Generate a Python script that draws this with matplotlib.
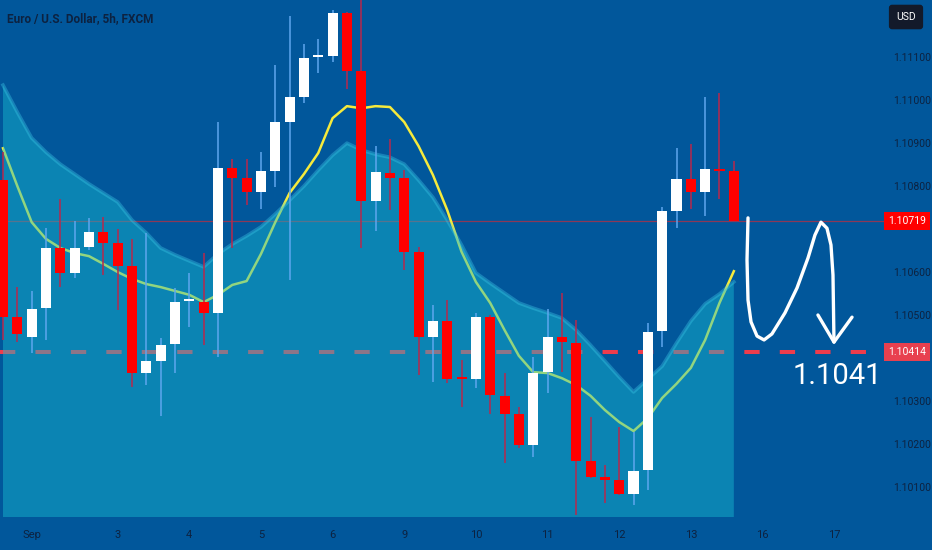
import matplotlib
matplotlib.use('Agg')
import matplotlib.pyplot as plt
import matplotlib.transforms as mtransforms

# 5h candles, EURUSD (FXCM)
opens = [1.10814, 1.10495, 1.10449, 1.10516, 1.10656, 1.10598, 1.10658, 1.10693, 1.10667, 1.10614,
         1.10365, 1.10393, 1.10433, 1.10533, 1.10530, 1.10505, 1.10842, 1.10819, 1.10786, 1.10835,
         1.10949, 1.11007, 1.11100, 1.11102, 1.11202, 1.11067, 1.10765, 1.10830, 1.10819, 1.10647,
         1.10449, 1.10486, 1.10353, 1.10351, 1.10495, 1.10312, 1.10270, 1.10198, 1.10367, 1.10449,
         1.10435, 1.10160, 1.10123, 1.10116, 1.10084, 1.10140, 1.10463, 1.10742, 1.10816, 1.10786,
         1.10840, 1.10835]
highs = [1.10879, 1.10565, 1.10556, 1.10702, 1.10770, 1.10719, 1.10726, 1.10728, 1.10700, 1.10677,
         1.10691, 1.10447, 1.10563, 1.10598, 1.10644, 1.10949, 1.10863, 1.10863, 1.10879, 1.11081,
         1.11195, 1.11130, 1.11142, 1.11209, 1.11205, 1.11244, 1.10893, 1.10909, 1.10837, 1.10658,
         1.10523, 1.10535, 1.10395, 1.10505, 1.10500, 1.10365, 1.10286, 1.10402, 1.10514, 1.10551,
         1.10488, 1.10263, 1.10151, 1.10240, 1.10228, 1.10481, 1.10751, 1.10888, 1.10898, 1.11007,
         1.11016, 1.10858]
lows = [1.10442, 1.10437, 1.10412, 1.10442, 1.10565, 1.10586, 1.10651, 1.10593, 1.10512, 1.10333,
        1.10337, 1.10265, 1.10365, 1.10472, 1.10430, 1.10402, 1.10656, 1.10756, 1.10747, 1.10798,
        1.10581, 1.10993, 1.11063, 1.11088, 1.11026, 1.10656, 1.10695, 1.10744, 1.10605, 1.10360,
        1.10344, 1.10342, 1.10286, 1.10330, 1.10270, 1.10156, 1.10191, 1.10170, 1.10319, 1.10367,
        1.10035, 1.10121, 1.10063, 1.10082, 1.10058, 1.10093, 1.10426, 1.10702, 1.10747, 1.10730,
        1.10770, 1.10719]
closes = [1.10495, 1.10456, 1.10514, 1.10656, 1.10598, 1.10656, 1.10693, 1.10667, 1.10614, 1.10365,
          1.10393, 1.10430, 1.10530, 1.10537, 1.10505, 1.10842, 1.10819, 1.10786, 1.10835, 1.10949,
          1.11007, 1.11098, 1.11102, 1.11202, 1.11067, 1.10765, 1.10833, 1.10819, 1.10647, 1.10449,
          1.10486, 1.10351, 1.10351, 1.10495, 1.10314, 1.10270, 1.10198, 1.10365, 1.10449, 1.10437,
          1.10160, 1.10123, 1.10116, 1.10084, 1.10137, 1.10460, 1.10742, 1.10816, 1.10786, 1.10840,
          1.10835, 1.10719]

# moving average + upper envelope of the shaded band
ma = [1.10888, 1.10800, 1.10716, 1.10677, 1.10656, 1.10644, 1.10637, 1.10619, 1.10600, 1.10584,
      1.10572, 1.10565, 1.10556, 1.10547, 1.10530, 1.10547, 1.10570, 1.10579, 1.10642, 1.10716,
      1.10784, 1.10828, 1.10877, 1.10958, 1.10986, 1.10981, 1.10986, 1.10984, 1.10949, 1.10893,
      1.10826, 1.10744, 1.10647, 1.10577, 1.10528, 1.10465, 1.10405, 1.10367, 1.10365, 1.10353,
      1.10337, 1.10312, 1.10279, 1.10251, 1.10230, 1.10260, 1.10307, 1.10340, 1.10377, 1.10442,
      1.10528, 1.10602]
band_top = [1.11035, 1.10972, 1.10912, 1.10879, 1.10851, 1.10828, 1.10805, 1.10784, 1.10763, 1.10721,
            1.10691, 1.10656, 1.10640, 1.10626, 1.10612, 1.10642, 1.10665, 1.10684, 1.10705, 1.10735,
            1.10767, 1.10800, 1.10837, 1.10872, 1.10900, 1.10884, 1.10874, 1.10867, 1.10851, 1.10814,
            1.10774, 1.10721, 1.10663, 1.10598, 1.10574, 1.10551, 1.10528, 1.10516, 1.10505, 1.10493,
            1.10465, 1.10430, 1.10393, 1.10356, 1.10321, 1.10351, 1.10381, 1.10435, 1.10486, 1.10526,
            1.10549, 1.10577]

last_price = 1.10719
target_price = 1.10414
target_text = '1.1041'

day_labels = ['Sep', '3', '4', '5', '6', '9', '10', '11', '12', '13', '16', '17']
day_ticks = [2, 8, 13, 18, 23, 28, 33, 38, 43, 48, 53, 58]
price_ticks = [1.101, 1.102, 1.103, 1.105, 1.106, 1.108, 1.109, 1.110, 1.111]

# hand drawn "down" scribble (candle index, price)
scribble_x = [51.99, 51.92, 51.99, 52.20, 52.62, 53.11, 53.66, 54.57, 55.41, 56.18, 56.66,
              57.08, 57.50, 57.78, 57.92, 57.99]
scribble_y = [1.10726, 1.10628, 1.10535, 1.10484, 1.10451, 1.10442, 1.10456, 1.10505, 1.10563,
              1.10633, 1.10686, 1.10716, 1.10702, 1.10663, 1.10593, 1.10437]
head_x = [56.87, 57.99, 59.25]
head_y = [1.10500, 1.10437, 1.10495]

BG = '#01579b'
TXT = '#0d2240'
narrow = ['Liberation Sans Narrow', 'Roboto', 'DejaVu Sans']

fig = plt.figure(figsize=(9.32, 5.5), dpi=100, facecolor=BG)
ax = fig.add_axes([0, 0.06, 885 / 932, 0.94], facecolor=BG)

n = len(opens)
x = list(range(n))

# lines under the translucent band
ax.axhline(last_price, color='#ff2020', lw=0.9, alpha=0.55, zorder=1)
ax.axhline(target_price, color='#ee3c4c', lw=2.9, dashes=(3.8, 5), zorder=1,
           solid_capstyle='butt', dash_capstyle='butt')
ax.plot(x, ma, color='#f6ea3c', lw=1.8, zorder=1.2)

ax.fill_between(x, band_top, 1.09, color='#18bcd2', alpha=0.45, lw=0, zorder=2)
ax.plot(x, band_top, color='#3cc6e6', lw=2.6, alpha=0.38, zorder=2.1)

# candles
for i in range(n):
    up = closes[i] >= opens[i]
    body_col = '#ffffff' if up else '#ff0000'
    wick_col = '#5ea6ee' if up else '#b8284c'
    ax.vlines(i, lows[i], highs[i], color=wick_col, lw=1.1, zorder=3)
    lo = min(opens[i], closes[i])
    h = max(abs(closes[i] - opens[i]), 0.00004)
    ax.bar(i, h, bottom=lo, width=0.7, color=body_col, lw=0, zorder=4)

# scribble + arrow
ax.plot(scribble_x, scribble_y, color='white', lw=2.4, solid_capstyle='round',
        solid_joinstyle='round', zorder=5)
ax.plot(head_x, head_y, color='white', lw=2.4, solid_capstyle='round',
        solid_joinstyle='round', zorder=5)
ax.text(58.2, 1.10357, target_text, color='white', fontsize=21, ha='center', va='center',
        family=narrow, zorder=5)

ax.set_xlim(-0.21, 61.55)
ax.set_ylim(1.10030, 1.11233)

for s in ax.spines.values():
    s.set_visible(False)

ax.set_xticks(day_ticks)
ax.set_xticklabels(day_labels)
ax.yaxis.tick_right()
ax.set_yticks(price_ticks)
ax.set_yticklabels(['%.5f' % p for p in price_ticks])
ax.tick_params(axis='x', length=0, pad=9, labelsize=8, labelcolor=TXT)
ax.tick_params(axis='y', length=0, pad=6, labelsize=7.5, labelcolor=TXT)
for lab in ax.get_xticklabels() + ax.get_yticklabels():
    lab.set_family(narrow)

# price tags on the scale
tr = mtransforms.blended_transform_factory(ax.transAxes, ax.transData)
ax.text(1.0249, last_price, '%.5f' % last_price, transform=tr, color='white', fontsize=7.5,
        ha='center', va='center', family=narrow, zorder=10, clip_on=False,
        bbox=dict(boxstyle='square,pad=0.4', fc='#ff0000', ec='none'))
ax.text(1.0249, target_price, '%.5f' % target_price, transform=tr, color='white', fontsize=7.5,
        ha='center', va='center', family=narrow, zorder=10, clip_on=False,
        bbox=dict(boxstyle='square,pad=0.4', fc='#e8404f', ec='none'))

fig.text(906 / 932, 1 - 17 / 550, 'USD', color='white', fontsize=7.5, ha='center', va='center',
         family=narrow, bbox=dict(boxstyle='round,pad=0.7,rounding_size=0.3', fc='#131a2a', ec='none'))
fig.text(7 / 932, 1 - 19 / 550, 'Euro / U.S. Dollar, 5h, FXCM', color=TXT, fontsize=8.5,
         ha='left', va='center', family=narrow, fontweight='bold')

fig.savefig('out.png', dpi=100, facecolor=BG)
